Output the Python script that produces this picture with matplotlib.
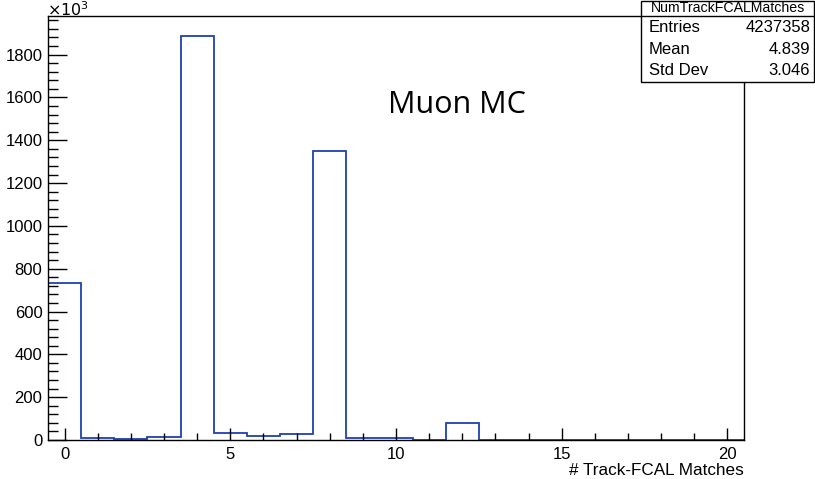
import numpy as np
import matplotlib.pyplot as plt
from matplotlib.ticker import MultipleLocator

plt.rcParams['font.family'] = ['Liberation Sans', 'DejaVu Sans']

# bin contents in units of 10^3, bins centred on integers 0..20
bin_centers = np.arange(0, 21)
counts = [733, 11, 3, 15, 1886, 32, 17, 29, 1348, 11, 11, 2, 78, 0, 0, 0, 2, 0, 0, 0, 0]
edges = np.arange(-0.5, 21.0, 1.0)

hist_name = "NumTrackFCALMatches"
stats_labels = ["Entries", "Mean", "Std Dev"]
stats_values = ["4237358", "4.839", "3.046"]

fig = plt.figure(figsize=(8.15, 4.79), dpi=100)
ax = fig.add_axes([48/815, 1 - 440/479, (744-48)/815, (440-16)/479])

ax.stairs(counts, edges, color='#2040b0', linewidth=1.3, baseline=0)
ax.set_xlim(-0.5, 20.5)
ax.set_ylim(0, 1.05 * max(counts))

ax.xaxis.set_major_locator(MultipleLocator(5))
ax.xaxis.set_minor_locator(MultipleLocator(1))
ax.yaxis.set_major_locator(MultipleLocator(200))
ax.yaxis.set_minor_locator(MultipleLocator(40))
ax.tick_params(which='both', direction='in', labelsize=12, width=1, colors='black')
ax.tick_params(axis='x', which='major', length=9, pad=5)
ax.tick_params(axis='x', which='minor', length=5)
ax.tick_params(axis='y', which='major', length=14, pad=4)
ax.tick_params(axis='y', which='minor', length=7)
for s in ax.spines.values():
    s.set_linewidth(1)

ax.set_xlabel("# Track-FCAL Matches", fontsize=12.3, loc='right', labelpad=1)
fig.text(47/815, 1 - 0.5/479, r"$\times10^{3}$", fontsize=11.5, ha='left', va='top')

ax.text(388/815, 1 - 105/479, "Muon MC", transform=fig.transFigure, fontsize=22,
        family=['Open Sans', 'DejaVu Sans'], ha='left', va='center')

# stats box
bx0, bx1 = 641/815, 814/815
by_top, by_sep, by_bot = 1 - 1/479, 1 - 16/479, 1 - 82/479
box = plt.Rectangle((bx0, by_bot), bx1 - bx0, by_top - by_bot, transform=fig.transFigure,
                    facecolor='white', edgecolor='black', linewidth=1, zorder=5)
fig.add_artist(box)
fig.add_artist(plt.Line2D([bx0, bx1], [by_sep, by_sep], transform=fig.transFigure,
                          color='black', linewidth=1, zorder=6))
fig.text((bx0 + bx1) / 2, (by_top + by_sep) / 2, hist_name, fontsize=10.2,
         ha='center', va='center', zorder=7)
row_h = (by_sep - by_bot) / 3
for i in range(3):
    yy = by_sep - row_h * (i + 0.5)
    fig.text(bx0 + 8/815, yy, stats_labels[i], fontsize=12, ha='left', va='center', zorder=7)
    fig.text(bx1 - 4/815, yy, stats_values[i], fontsize=12, ha='right', va='center', zorder=7)

fig.savefig("out.png", dpi=100)
